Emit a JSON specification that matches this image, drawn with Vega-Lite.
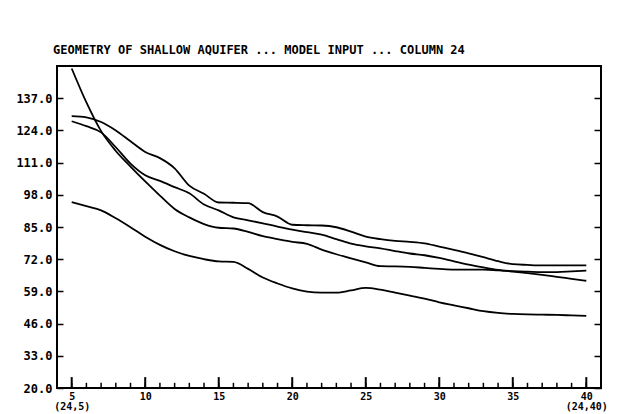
{
  "$schema": "https://vega.github.io/schema/vega-lite/v6.json",
  "width": 544,
  "height": 322,
  "autosize": {"type": "none"},
  "padding": {"left": 57, "top": 66, "right": 23, "bottom": 26},
  "background": "white",
  "title": {
    "text": "GEOMETRY OF SHALLOW AQUIFER ... MODEL INPUT ... COLUMN 24",
    "anchor": "start",
    "frame": "group",
    "dx": -4,
    "offset": 8,
    "font": "DejaVu Sans Mono",
    "fontSize": 12,
    "fontWeight": "bold",
    "color": "black"
  },
  "config": {
    "view": {"stroke": "black", "strokeWidth": 2},
    "axis": {
      "labelFont": "DejaVu Sans Mono",
      "labelFontWeight": "bold",
      "labelColor": "black",
      "domain": false,
      "tickColor": "black",
      "tickWidth": 1.5,
      "grid": false,
      "title": null
    }
  },
  "datasets": {
    "profiles": [
      {"series":"A","col":5,"elev":149.0},{"series":"A","col":6,"elev":135.3},{"series":"A","col":7,"elev":123.7},{"series":"A","col":8,"elev":115.7},{"series":"A","col":9,"elev":109.4},{"series":"A","col":10,"elev":103.4},{"series":"A","col":11,"elev":97.7},{"series":"A","col":12,"elev":92.3},{"series":"A","col":13,"elev":88.9},{"series":"A","col":14,"elev":86.2},{"series":"A","col":15,"elev":84.7},{"series":"A","col":16,"elev":84.4},{"series":"A","col":17,"elev":83.0},{"series":"A","col":18,"elev":81.3},{"series":"A","col":19,"elev":80.1},{"series":"A","col":20,"elev":79.0},{"series":"A","col":21,"elev":78.2},{"series":"A","col":22,"elev":75.9},{"series":"A","col":23,"elev":74.0},{"series":"A","col":24,"elev":72.3},{"series":"A","col":25,"elev":70.7},{"series":"A","col":26,"elev":69.2},{"series":"A","col":27,"elev":69.1},{"series":"A","col":28,"elev":68.9},{"series":"A","col":29,"elev":68.5},{"series":"A","col":30,"elev":68.1},{"series":"A","col":31,"elev":67.8},{"series":"A","col":32,"elev":67.8},{"series":"A","col":33,"elev":67.8},{"series":"A","col":34,"elev":67.5},{"series":"A","col":35,"elev":67.2},{"series":"A","col":36,"elev":67.0},{"series":"A","col":37,"elev":66.8},{"series":"A","col":38,"elev":66.8},{"series":"A","col":39,"elev":67.1},{"series":"A","col":40,"elev":67.4},
      {"series":"B","col":5,"elev":129.8},{"series":"B","col":6,"elev":129.3},{"series":"B","col":7,"elev":127.4},{"series":"B","col":8,"elev":124.0},{"series":"B","col":9,"elev":119.6},{"series":"B","col":10,"elev":115.3},{"series":"B","col":11,"elev":112.8},{"series":"B","col":12,"elev":108.7},{"series":"B","col":13,"elev":101.7},{"series":"B","col":14,"elev":98.4},{"series":"B","col":15,"elev":94.9},{"series":"B","col":16,"elev":94.8},{"series":"B","col":17,"elev":94.6},{"series":"B","col":18,"elev":91.0},{"series":"B","col":19,"elev":89.2},{"series":"B","col":20,"elev":85.9},{"series":"B","col":21,"elev":85.7},{"series":"B","col":22,"elev":85.6},{"series":"B","col":23,"elev":84.9},{"series":"B","col":24,"elev":83.1},{"series":"B","col":25,"elev":81.1},{"series":"B","col":26,"elev":80.1},{"series":"B","col":27,"elev":79.4},{"series":"B","col":28,"elev":79.0},{"series":"B","col":29,"elev":78.4},{"series":"B","col":30,"elev":77.1},{"series":"B","col":31,"elev":75.8},{"series":"B","col":32,"elev":74.4},{"series":"B","col":33,"elev":72.8},{"series":"B","col":34,"elev":71.2},{"series":"B","col":35,"elev":70.0},{"series":"B","col":36,"elev":69.7},{"series":"B","col":37,"elev":69.5},{"series":"B","col":38,"elev":69.5},{"series":"B","col":39,"elev":69.5},{"series":"B","col":40,"elev":69.5},
      {"series":"C","col":5,"elev":127.7},{"series":"C","col":6,"elev":125.7},{"series":"C","col":7,"elev":123.2},{"series":"C","col":8,"elev":117.2},{"series":"C","col":9,"elev":110.6},{"series":"C","col":10,"elev":105.9},{"series":"C","col":11,"elev":103.6},{"series":"C","col":12,"elev":101.1},{"series":"C","col":13,"elev":98.6},{"series":"C","col":14,"elev":94.1},{"series":"C","col":15,"elev":91.7},{"series":"C","col":16,"elev":88.9},{"series":"C","col":17,"elev":87.7},{"series":"C","col":18,"elev":86.5},{"series":"C","col":19,"elev":85.2},{"series":"C","col":20,"elev":83.9},{"series":"C","col":21,"elev":82.9},{"series":"C","col":22,"elev":81.9},{"series":"C","col":23,"elev":80.1},{"series":"C","col":24,"elev":78.3},{"series":"C","col":25,"elev":77.2},{"series":"C","col":26,"elev":76.4},{"series":"C","col":27,"elev":75.3},{"series":"C","col":28,"elev":74.3},{"series":"C","col":29,"elev":73.6},{"series":"C","col":30,"elev":72.5},{"series":"C","col":31,"elev":71.1},{"series":"C","col":32,"elev":69.8},{"series":"C","col":33,"elev":68.7},{"series":"C","col":34,"elev":67.7},{"series":"C","col":35,"elev":67.0},{"series":"C","col":36,"elev":66.4},{"series":"C","col":37,"elev":65.7},{"series":"C","col":38,"elev":64.9},{"series":"C","col":39,"elev":64.1},{"series":"C","col":40,"elev":63.3},
      {"series":"D","col":5,"elev":95.0},{"series":"D","col":6,"elev":93.4},{"series":"D","col":7,"elev":91.7},{"series":"D","col":8,"elev":88.5},{"series":"D","col":9,"elev":84.9},{"series":"D","col":10,"elev":81.1},{"series":"D","col":11,"elev":77.8},{"series":"D","col":12,"elev":75.2},{"series":"D","col":13,"elev":73.3},{"series":"D","col":14,"elev":72.0},{"series":"D","col":15,"elev":71.1},{"series":"D","col":16,"elev":70.9},{"series":"D","col":17,"elev":68.1},{"series":"D","col":18,"elev":64.6},{"series":"D","col":19,"elev":62.2},{"series":"D","col":20,"elev":60.2},{"series":"D","col":21,"elev":58.9},{"series":"D","col":22,"elev":58.5},{"series":"D","col":23,"elev":58.5},{"series":"D","col":24,"elev":59.4},{"series":"D","col":25,"elev":60.4},{"series":"D","col":26,"elev":59.7},{"series":"D","col":27,"elev":58.5},{"series":"D","col":28,"elev":57.3},{"series":"D","col":29,"elev":56.1},{"series":"D","col":30,"elev":54.6},{"series":"D","col":31,"elev":53.4},{"series":"D","col":32,"elev":52.2},{"series":"D","col":33,"elev":51.0},{"series":"D","col":34,"elev":50.3},{"series":"D","col":35,"elev":49.9},{"series":"D","col":36,"elev":49.7},{"series":"D","col":37,"elev":49.6},{"series":"D","col":38,"elev":49.5},{"series":"D","col":39,"elev":49.3},{"series":"D","col":40,"elev":49.1}
    ],
    "columns": [
      {"col":5},{"col":6},{"col":7},{"col":8},{"col":9},{"col":10},{"col":11},{"col":12},{"col":13},{"col":14},{"col":15},{"col":16},{"col":17},{"col":18},{"col":19},{"col":20},{"col":21},{"col":22},{"col":23},{"col":24},{"col":25},{"col":26},{"col":27},{"col":28},{"col":29},{"col":30},{"col":31},{"col":32},{"col":33},{"col":34},{"col":35},{"col":36},{"col":37},{"col":38},{"col":39},{"col":40}
    ]
  },
  "layer": [
    {
      "data": {"name": "profiles"},
      "mark": {"type": "line", "color": "black", "strokeWidth": 1.8, "interpolate": "monotone"},
      "encoding": {
        "x": {
          "field": "col",
          "type": "quantitative",
          "scale": {"domain": [4, 41], "nice": false, "zero": false},
          "axis": {
            "orient": "bottom",
            "values": [5,10,15,20,25,30,35,40],
            "ticks": false,
            "labelExpr": "datum.value == 5 ? ['5', '(24,5)'] : (datum.value == 40 ? ['40', '(24,40)'] : datum.label)",
            "labelFontSize": 10,
            "labelLineHeight": 10,
            "labelPadding": 3,
            "labelOverlap": false,
            "labelFlush": false
          }
        },
        "y": {
          "field": "elev",
          "type": "quantitative",
          "scale": {"domain": [20, 150], "nice": false, "zero": false},
          "axis": {
            "orient": "left",
            "values": [20,33,46,59,72,85,98,111,124,137],
            "format": ".1f",
            "offset": -6,
            "tickSize": 6,
            "labelFontSize": 12,
            "labelPadding": 5,
            "labelOverlap": false,
            "labelFlush": false
          }
        },
        "detail": {"field": "series", "type": "nominal"}
      }
    },
    {
      "data": {"name": "profiles"},
      "mark": {"type": "line", "strokeOpacity": 0, "interpolate": "monotone"},
      "encoding": {
        "x": {"field": "col", "type": "quantitative", "axis": null},
        "y": {
          "field": "elev",
          "type": "quantitative",
          "scale": {"domain": [20, 150], "nice": false, "zero": false},
          "axis": {
            "orient": "right",
            "values": [20,33,46,59,72,85,98,111,124,137],
            "offset": -7,
            "tickSize": 7,
            "labels": false
          }
        },
        "detail": {"field": "series", "type": "nominal"}
      }
    },
    {
      "data": {"name": "columns"},
      "mark": {"type": "rule", "color": "black", "strokeWidth": 1.5},
      "encoding": {
        "x": {"field": "col", "type": "quantitative", "axis": null},
        "y": {"datum": 20, "type": "quantitative", "axis": null},
        "y2": {"datum": 22.1}
      }
    },
    {
      "data": {"name": "columns"},
      "transform": [{"filter": "datum.col % 5 == 0"}],
      "mark": {"type": "rule", "color": "black", "strokeWidth": 2},
      "encoding": {
        "x": {"field": "col", "type": "quantitative", "axis": null},
        "y": {"datum": 20, "type": "quantitative", "axis": null},
        "y2": {"datum": 24.4}
      }
    }
  ],
  "resolve": {"axis": {"y": "independent", "x": "independent"}}
}
